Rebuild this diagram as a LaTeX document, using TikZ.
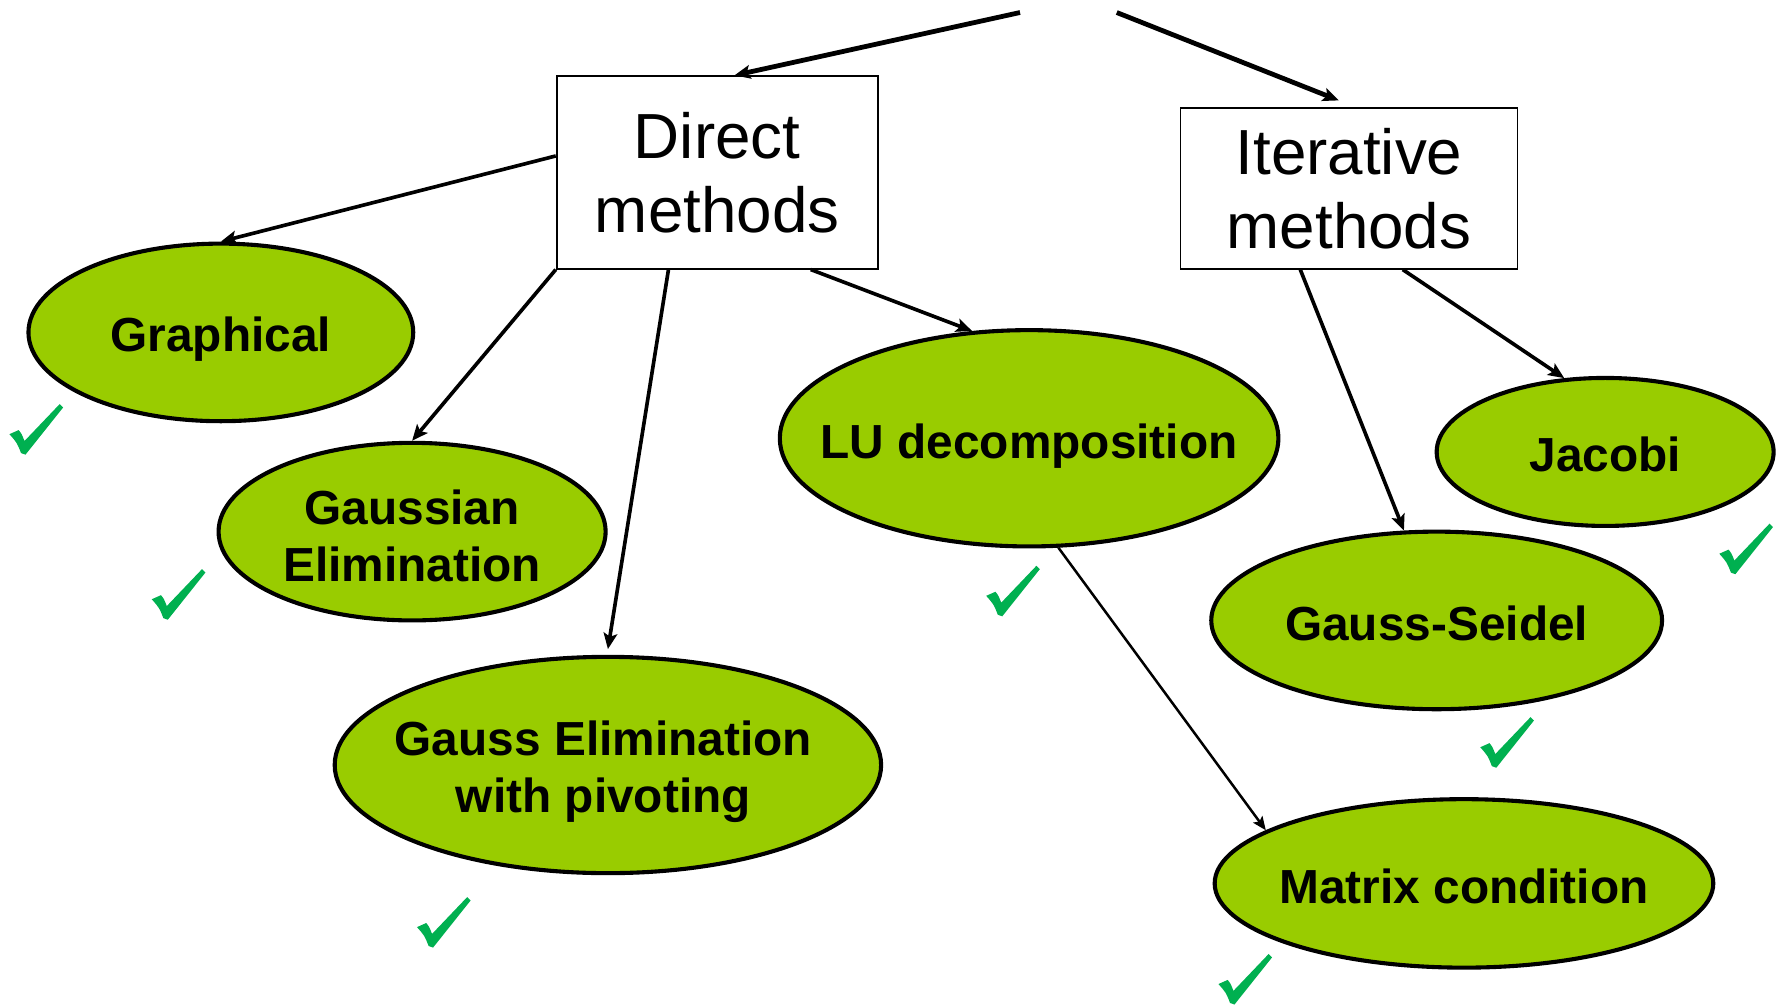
\documentclass[tikz,border=0pt]{standalone}
\usepackage{fontspec}
\setmainfont{Liberation Sans}
\usetikzlibrary{shapes.geometric,arrows.meta,calc}
\definecolor{ovalgreen}{RGB}{153,204,0}
\definecolor{checkgreen}{RGB}{0,176,80}
\begin{document}
\begin{tikzpicture}[x=0.5pt,y=-0.5pt,
  box/.style={draw, line width=0.8pt, fill=white, inner sep=0pt, align=center, font=\fontsize{28}{32.5}\selectfont},
  oval/.style={ellipse, draw, line width=1.8pt, fill=ovalgreen, inner sep=0pt},
  ovaltext/.style={align=center, inner sep=0pt, font=\bfseries\fontsize{21}{25}\selectfont},
  arr/.style={-{Stealth[length=7pt,width=6pt,inset=1.5pt]}, line width=1.6pt},
  toparr/.style={arr, line width=2.1pt},
  thinarr/.style={-{Stealth[length=6pt,width=5pt,inset=1.2pt]}, line width=1.1pt},
  okmark/.pic={\fill[checkgreen] (0.3,26.4) -- (8.4,22.8) .. controls (11,26) .. (13.5,32.4) -- (44.4,0) -- (47.4,3) -- (14.4,44.4) -- (10.5,43) .. controls (7,34) .. cycle;}]
\useasboundingbox (0,0) rectangle (1568,882);

% boxes
\node[box, minimum width=141pt, minimum height=84.5pt] (direct) at (630,151.5) {Direct\\methods};
\node[box, minimum width=148pt, minimum height=70.5pt] (iter) at (1185,165.5) {Iterative\\methods};

% ellipses
\node[oval, minimum width=169pt, minimum height=78pt] (graph) at (194,292) {};
\node[ovaltext] (grapht) at (194,298) {Graphical};
\node[oval, minimum width=170pt, minimum height=78pt] (gauss) at (362,467) {};
\node[ovaltext] (gausst) at (362,471) {Gaussian\\Elimination};
\node[oval, minimum width=240pt, minimum height=95pt] (pivot) at (534,672) {};
\node[ovaltext] (pivott) at (530,678) {Gauss Elimination\\with pivoting};
\node[oval, minimum width=219pt, minimum height=95pt] (lu) at (904,385) {};
\node[ovaltext] (lut) at (904,392) {LU decomposition};
\node[oval, minimum width=148pt, minimum height=65pt] (jac) at (1410,397) {};
\node[ovaltext] (jact) at (1410,399) {Jacobi};
\node[oval, minimum width=198pt, minimum height=78pt] (gs) at (1262,545) {};
\node[ovaltext] (gst) at (1262,548) {Gauss-Seidel};
\node[oval, minimum width=219pt, minimum height=74pt] (matrix) at (1286,776) {};
\node[ovaltext] (matrixt) at (1286,779) {Matrix condition};

% connectors
\coordinate (topL) at (896,11);
\coordinate (topR) at (981,11);
\draw[toparr] (topL) -- ([xshift=78.5pt]direct.north west);
\draw[toparr] (topR) -- ([xshift=-4.5pt,yshift=3pt]iter.north);
\draw[arr] ([yshift=7.25pt]direct.west) -- (graph.north);
\draw[arr] (direct.south west) -- (gauss.north);
\draw[arr] ([xshift=49.5pt]direct.south west) -- ([yshift=2.5pt]pivot.north);
\draw[arr] ([xshift=112pt]direct.south west) -- (lu.118);
\draw[thinarr] (lu.-75) -- (matrix.165);
\draw[arr] ([xshift=53pt]iter.south west) -- (gs.110);
\draw[arr] ([xshift=98pt]iter.south west) -- (jac.119);

% check marks
\pic at (8,355) {okmark};
\pic at (133,500) {okmark};
\pic at (366,788) {okmark};
\pic at (866,497) {okmark};
\pic at (1300,630) {okmark};
\pic at (1510,460) {okmark};
\pic at (1070,838) {okmark};
\end{tikzpicture}
\end{document}
